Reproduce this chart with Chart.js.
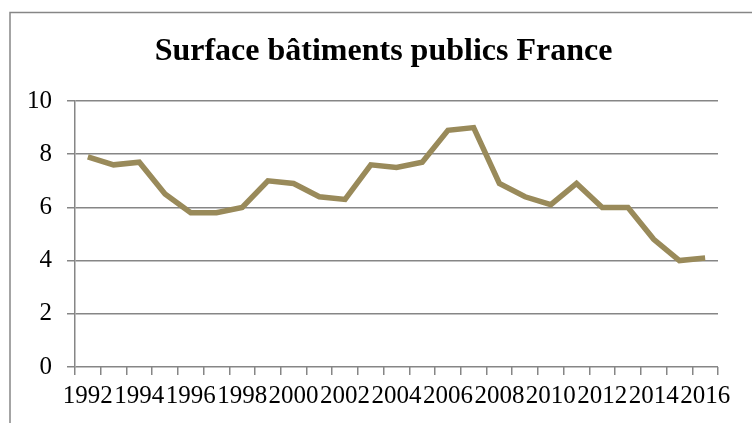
<!DOCTYPE html>
<html lang="fr">
<head>
  <meta charset="UTF-8">
  <title>Surface bâtiments publics France</title>
  <script src="https://cdn.jsdelivr.net/npm/chart.js"></script>
  <style>
    html, body { margin: 0; padding: 0; background: #fff; overflow: hidden; }
    #wrap { position: relative; width: 752px; height: 423px; overflow: hidden; }
    #surfaceChart { position: absolute; left: 0; top: 0; }
  </style>
</head>
<body>
<div id="wrap">
  <canvas id="surfaceChart" width="767" height="423"></canvas>
</div>
<script>
  // data
  const years = ['1992','1993','1994','1995','1996','1997','1998','1999','2000','2001','2002','2003',
                 '2004','2005','2006','2007','2008','2009','2010','2011','2012','2013','2014','2015','2016'];
  const surface = [7.9, 7.6, 7.7, 6.5, 5.8, 5.8, 6.0, 7.0, 6.9, 6.4, 6.3, 7.6,
                   7.5, 7.7, 8.9, 9.0, 6.9, 6.4, 6.1, 6.9, 6.0, 6.0, 4.8, 4.0, 4.1];
  const yTicks = [0, 2, 4, 6, 8, 10];

  const grey = '#868686';
  const serif = "'Liberation Serif', 'Times New Roman', serif";

  // outer frame of the chart box (only left and top edges are in view)
  const framePlugin = {
    id: 'frame',
    beforeDraw(chart) {
      const ctx = chart.ctx;
      ctx.save();
      ctx.strokeStyle = grey;
      ctx.lineWidth = 1.5;
      ctx.beginPath();
      ctx.moveTo(10, 423);
      ctx.lineTo(10, 12.5);
      ctx.lineTo(chart.width, 12.5);
      ctx.stroke();
      ctx.restore();
    }
  };

  new Chart(document.getElementById('surfaceChart').getContext('2d'), {
    type: 'line',
    data: {
      labels: years,
      datasets: [{
        label: 'Surface',
        data: surface,
        borderColor: '#998a5a',
        borderWidth: 5.5,
        pointRadius: 0,
        tension: 0,
        fill: false
      }]
    },
    options: {
      responsive: false,
      animation: false,
      layout: { padding: 0 },
      plugins: {
        legend: { display: false },
        tooltip: { enabled: false },
        title: {
          display: true,
          text: 'Surface bâtiments publics France',
          color: '#000',
          font: { family: serif, size: 32, weight: 'bold' },
          padding: { top: 33, bottom: 29.6 }
        }
      },
      scales: {
        x: {
          type: 'category',
          offset: true,
          grid: {
            offset: true,
            drawOnChartArea: false,
            drawTicks: true,
            tickLength: 8,
            color: grey,
            lineWidth: 1.5
          },
          border: { display: false },
          ticks: {
            autoSkip: false,
            maxRotation: 0,
            minRotation: 0,
            padding: 6,
            color: '#000',
            font: { family: serif, size: 25 },
            callback: function (value, index) {
              return index % 2 === 0 ? years[index] : '';
            }
          },
          afterFit: function (scale) { scale.height = 56; }
        },
        y: {
          min: 0,
          max: 10,
          afterBuildTicks: function (scale) {
            scale.ticks = yTicks.map(v => ({ value: v }));
          },
          grid: {
            color: grey,
            lineWidth: 1.5,
            tickLength: 8
          },
          border: { display: true, color: grey, width: 1.5 },
          ticks: {
            padding: 15,
            color: '#000',
            font: { family: serif, size: 25 }
          },
          afterFit: function (scale) { scale.width = 75; }
        },
        // empty right box, only there so the title centres like the original
        yRight: {
          position: 'right',
          display: true,
          grid: { display: false, drawTicks: false },
          border: { display: false },
          ticks: { display: false },
          afterFit: function (scale) { scale.width = 49; }
        }
      }
    },
    plugins: [framePlugin]
  });
</script>
</body>
</html>
